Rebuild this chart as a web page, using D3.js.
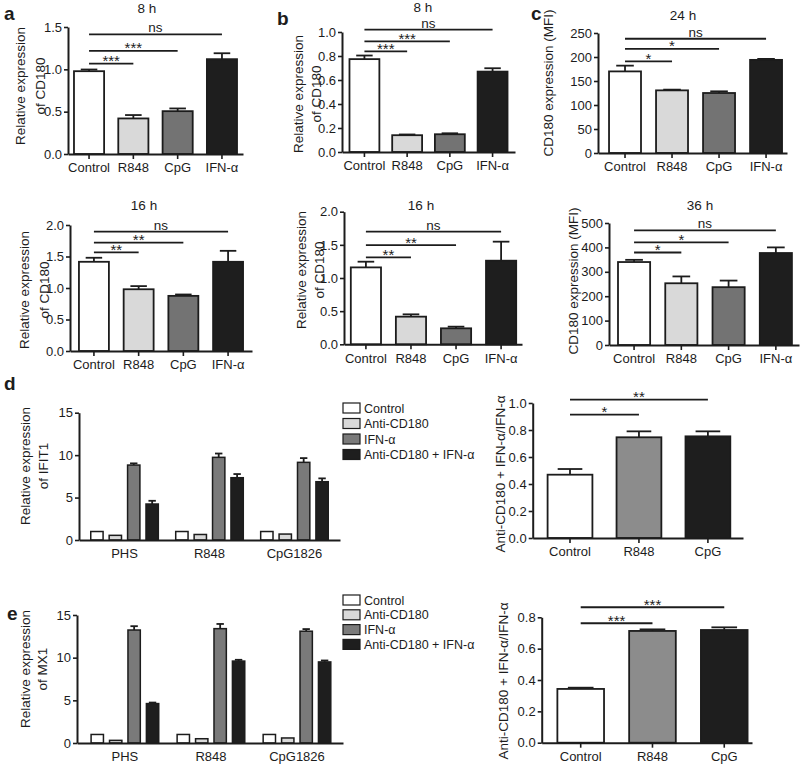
<!DOCTYPE html>
<html><head><meta charset="utf-8">
<script src="https://cdn.jsdelivr.net/npm/d3@7"></script>
<style>
body{margin:0;background:#fff}
svg{display:block}
text{font-family:"Liberation Sans",Arial,Helvetica,sans-serif;fill:#1c1c1c}
</style>
</head><body>
<svg id="fig" width="800" height="768"></svg>
<script>
// ---------- DATA ----------
const treatments = ["Control", "R848", "CpG", "IFN-α"];

const a8hValues  = [0.978, 0.42, 0.506, 1.12];
const a8hErrors  = [0.02, 0.04, 0.032, 0.07];
const a16hValues = [1.416, 0.98, 0.875, 1.416];
const a16hErrors = [0.064, 0.05, 0.022, 0.174];

const b8hValues  = [0.774, 0.14, 0.148, 0.67];
const b8hErrors  = [0.03, 0.006, 0.008, 0.028];
const b16hValues = [1.16, 0.417, 0.241, 1.261];
const b16hErrors = [0.086, 0.035, 0.025, 0.287];

const c24hValues = [170, 130.5, 125, 194];
const c24hErrors = [12, 1.5, 3.5, 2];
const c36hValues = [340, 253, 237, 377];
const c36hErrors = [9, 28, 27, 23];

// significance brackets: [from, to, label, level (data units)]
const a8hSig  = [["Control","R848","***",1.068],["Control","CpG","***",1.217],["Control","IFN-α","ns",1.413]];
const a16hSig = [["Control","R848","**",1.565],["Control","CpG","**",1.719],["Control","IFN-α","ns",1.894]];
const b8hSig  = [["Control","R848","***",0.838],["Control","CpG","***",0.922],["Control","IFN-α","ns",1.02]];
const b16hSig = [["Control","R848","**",1.312],["Control","CpG","**",1.497],["Control","IFN-α","ns",1.698]];
const c24hSig = [["Control","R848","*",191],["Control","CpG","*",217],["Control","IFN-α","ns",238]];
const c36hSig = [["Control","R848","*",379],["Control","CpG","*",421],["Control","IFN-α","ns",470]];

const stimuli = ["PHS", "R848", "CpG1826"];
const conditions = ["Control", "Anti-CD180", "IFN-α", "Anti-CD180 + IFN-α"];

const ifit1Control    = [1.0, 1.0, 1.0];
const ifit1AntiCD180  = [0.55, 0.65, 0.7];
const ifit1IFN        = [8.83, 9.74, 9.15];
const ifit1Combo      = [4.24, 7.34, 6.87];
const ifit1IFNErr     = [0.2, 0.45, 0.5];
const ifit1ComboErr   = [0.38, 0.43, 0.39];

const mx1Control      = [1.0, 1.0, 1.0];
const mx1AntiCD180    = [0.31, 0.5, 0.59];
const mx1IFN          = [13.24, 13.4, 13.1];
const mx1Combo        = [4.62, 9.6, 9.5];
const mx1IFNErr       = [0.45, 0.55, 0.25];
const mx1ComboErr     = [0.12, 0.15, 0.17];

const ratioGroups = ["Control", "R848", "CpG"];
const ifit1RatioValues = [0.469, 0.746, 0.753];
const ifit1RatioErrors = [0.042, 0.044, 0.037];
const ifit1RatioSig = [["Control","R848","*",0.914],["Control","CpG","**",1.025]];
const mx1RatioValues = [0.343, 0.713, 0.719];
const mx1RatioErrors = [0.008, 0.01, 0.017];
const mx1RatioSig = [["Control","R848","***",0.762],["Control","CpG","***",0.864]];

// ---------- STYLE ----------
const treatmentColors = ["#ffffff", "#d9d9d9", "#737373", "#1e1e1e"];
const conditionColors = ["#ffffff", "#d9d9d9", "#7a7a7a", "#1e1e1e"];
const ratioColors     = ["#ffffff", "#8c8c8c", "#1e1e1e"];
const INK = "#1c1c1c";

const svg = d3.select("#fig");

function styleAxis(g) {
  g.select(".domain").attr("stroke", INK).attr("stroke-width", 2);
  g.selectAll(".tick line").attr("stroke", INK).attr("stroke-width", 1.6);
  g.selectAll(".tick text").attr("font-size", 13).attr("fill", INK)
    .style("font-family", '"Liberation Sans",Arial,sans-serif');
}

function yLabel(cfg) {
  cfg.ylab.forEach((t, i) => {
    svg.append("text")
      .attr("transform", `translate(${cfg.ylabX[i]},${cfg.ylabY}) rotate(-90)`)
      .attr("text-anchor", "middle").attr("font-size", 13.5).text(t);
  });
}

function decorations(cfg) {
  if (cfg.title) svg.append("text").attr("x", cfg.titleX).attr("y", cfg.titleY)
    .attr("text-anchor", "middle").attr("font-size", 13.5).text(cfg.title);
  if (cfg.letter) svg.append("text").attr("x", cfg.letterX).attr("y", cfg.letterY)
    .attr("font-size", 19).attr("font-weight", "bold").text(cfg.letter);
  yLabel(cfg);
}

function yAxis(cfg, y) {
  const ticks = d3.range(0, cfg.yMax + cfg.step * 0.01, cfg.step);
  svg.append("g").attr("transform", `translate(${cfg.ax},0)`)
    .call(d3.axisLeft(y).tickValues(ticks).tickFormat(d3.format(cfg.fmt))
      .tickSize(4).tickPadding(2).tickSizeOuter(0))
    .call(styleAxis);
}

function errorBars(x, y, items, capW) {
  const g = svg.append("g").attr("stroke", INK).attr("stroke-width", 1.8);
  items.filter(d => d.err > 0).forEach(d => {
    g.append("line").attr("x1", d.cx).attr("x2", d.cx).attr("y1", y(d.v)).attr("y2", y(d.v + d.err));
    g.append("line").attr("x1", d.cx - capW / 2).attr("x2", d.cx + capW / 2)
      .attr("y1", y(d.v + d.err)).attr("y2", y(d.v + d.err));
  });
}

function sigBrackets(x, y, sig) {
  sig.forEach(([a, b, lab, lvl]) => {
    const x1 = x(a) + x.bandwidth() / 2, x2 = x(b) + x.bandwidth() / 2, yy = y(lvl);
    svg.append("line").attr("x1", x1).attr("x2", x2).attr("y1", yy).attr("y2", yy)
      .attr("stroke", INK).attr("stroke-width", 1.8);
    const isStar = lab.includes("*");
    svg.append("text").attr("x", (x1 + x2) / 2).attr("y", isStar ? yy + 2.5 : yy - 2)
      .attr("text-anchor", "middle").attr("font-size", isStar ? 15 : 13.5).text(lab);
  });
}

function barPanel(cfg) {
  const x = d3.scaleBand().domain(cfg.cats).range([cfg.ax, cfg.xEnd])
    .paddingInner(cfg.pi).paddingOuter(cfg.po).align(cfg.align);
  const y = d3.scaleLinear().domain([0, cfg.yMax]).range([cfg.yBottom, cfg.yTop]);
  const items = cfg.cats.map((c, i) => ({c, v: cfg.values[i], err: cfg.errors[i], cx: x(c) + x.bandwidth() / 2}));
  errorBars(x, y, items, x.bandwidth() * 0.55);
  svg.append("g").selectAll("rect").data(items).join("rect")
    .attr("x", d => x(d.c)).attr("y", d => y(d.v))
    .attr("width", x.bandwidth()).attr("height", d => y(0) - y(d.v))
    .attr("fill", (d, i) => cfg.colors[i]).attr("stroke", INK).attr("stroke-width", 1.8);
  yAxis(cfg, y);
  svg.append("g").attr("transform", `translate(0,${cfg.yBottom})`)
    .call(d3.axisBottom(x).tickSize(5).tickPadding(4).tickSizeOuter(0))
    .call(styleAxis);
  sigBrackets(x, y, cfg.sig);
  decorations(cfg);
}

function groupedPanel(cfg) {
  const x0 = d3.scaleBand().domain(stimuli).range([cfg.ax, cfg.xEnd])
    .paddingInner(cfg.pi).paddingOuter(cfg.po).align(cfg.align);
  const x1 = d3.scaleBand().domain(conditions).range([0, x0.bandwidth()])
    .paddingInner(0.33).paddingOuter(0.2);
  const y = d3.scaleLinear().domain([0, cfg.yMax]).range([cfg.yBottom, cfg.yTop]);
  const items = [];
  stimuli.forEach((s, i) => conditions.forEach((c, j) => {
    items.push({s, c, j, v: cfg.series[j][i], err: cfg.errs[j][i], cx: x0(s) + x1(c) + x1.bandwidth() / 2});
  }));
  errorBars(x0, y, items, x1.bandwidth() * 0.6);
  svg.append("g").selectAll("rect").data(items).join("rect")
    .attr("x", d => x0(d.s) + x1(d.c)).attr("y", d => y(d.v))
    .attr("width", x1.bandwidth()).attr("height", d => y(0) - y(d.v))
    .attr("fill", d => conditionColors[d.j]).attr("stroke", INK).attr("stroke-width", 1.5);
  yAxis(cfg, y);
  svg.append("g").attr("transform", `translate(0,${cfg.yBottom})`)
    .call(d3.axisBottom(x0).tickSize(0).tickPadding(9).tickSizeOuter(0))
    .call(styleAxis);
  // legend
  const lg = svg.append("g");
  conditions.forEach((c, j) => {
    const yy = cfg.legY + j * cfg.legStep;
    lg.append("rect").attr("x", cfg.legX).attr("y", yy - 5).attr("width", 17).attr("height", 10)
      .attr("fill", conditionColors[j]).attr("stroke", INK).attr("stroke-width", 1.2);
    lg.append("text").attr("x", cfg.legX + 21).attr("y", yy + 4.5).attr("font-size", 12.5).text(c);
  });
  decorations(cfg);
}

// ---------- PANELS ----------
barPanel({values: a8hValues, errors: a8hErrors, sig: a8hSig, cats: treatments, colors: treatmentColors,
  ax: 68, xEnd: 243, yBottom: 154, yTop: 27, yMax: 1.5, step: 0.5, fmt: ".1f", pi: 0.32, po: 0.135, align: 0.5,
  title: "8 h", titleX: 147, titleY: 13, letter: "a", letterX: 4, letterY: 20,
  ylab: ["Relative expression", "of CD180"], ylabX: [25, 45], ylabY: 86});

barPanel({values: a16hValues, errors: a16hErrors, sig: a16hSig, cats: treatments, colors: treatmentColors,
  ax: 70, xEnd: 252, yBottom: 351, yTop: 225, yMax: 2.0, step: 0.5, fmt: ".1f", pi: 0.33, po: 0.2, align: 0.5,
  title: "16 h", titleX: 144, titleY: 210,
  ylab: ["Relative expression", "of CD180"], ylabX: [29, 48.5], ylabY: 290});

barPanel({values: b8hValues, errors: b8hErrors, sig: b8hSig, cats: treatments, colors: treatmentColors,
  ax: 342, xEnd: 515, yBottom: 152, yTop: 32, yMax: 1.0, step: 0.2, fmt: ".1f", pi: 0.3, po: 0.175, align: 0.5,
  title: "8 h", titleX: 423, titleY: 12, letter: "b", letterX: 277, letterY: 25,
  ylab: ["Relative expression", "of CD180"], ylabX: [302.5, 321], ylabY: 94});

barPanel({values: b16hValues, errors: b16hErrors, sig: b16hSig, cats: treatments, colors: treatmentColors,
  ax: 344, xEnd: 522, yBottom: 344.3, yTop: 211.7, yMax: 2.0, step: 0.5, fmt: ".1f", pi: 0.33, po: 0.14, align: 0.54,
  title: "16 h", titleX: 421, titleY: 210,
  ylab: ["Relative expression", "of CD180"], ylabX: [306, 324], ylabY: 270});

barPanel({values: c24hValues, errors: c24hErrors, sig: c24hSig, cats: treatments, colors: treatmentColors,
  ax: 598, xEnd: 787, yBottom: 153, yTop: 33, yMax: 250, step: 50, fmt: "d", pi: 0.32, po: 0.17, align: 0.69,
  title: "24 h", titleX: 683, titleY: 20, letter: "c", letterX: 531, letterY: 20,
  ylab: ["CD180 expression (MFI)"], ylabX: [552.5], ylabY: 83});

barPanel({values: c36hValues, errors: c36hErrors, sig: c36hSig, cats: treatments, colors: treatmentColors,
  ax: 609, xEnd: 799, yBottom: 345, yTop: 223, yMax: 500, step: 100, fmt: "d", pi: 0.32, po: 0.17, align: 0.56,
  title: "36 h", titleX: 700, titleY: 210,
  ylab: ["CD180 expression (MFI)"], ylabX: [578], ylabY: 281});

groupedPanel({series: [ifit1Control, ifit1AntiCD180, ifit1IFN, ifit1Combo],
  errs: [[0,0,0],[0,0,0], ifit1IFNErr, ifit1ComboErr],
  ax: 79, xEnd: 340, yBottom: 540, yTop: 412.7, yMax: 15, step: 5, fmt: "d", pi: 0.118, po: 0.095, align: 0.5,
  letter: "d", letterX: 4, letterY: 390,
  ylab: ["Relative expression", "of IFIT1"], ylabX: [29.5, 47.5], ylabY: 466,
  legX: 343, legY: 408, legStep: 15.5});

groupedPanel({series: [mx1Control, mx1AntiCD180, mx1IFN, mx1Combo],
  errs: [[0,0,0],[0,0,0], mx1IFNErr, mx1ComboErr],
  ax: 77, xEnd: 343, yBottom: 743, yTop: 615, yMax: 15, step: 5, fmt: "d", pi: 0.128, po: 0.11, align: 0.55,
  letter: "e", letterX: 7, letterY: 620,
  ylab: ["Relative expression", "of MX1"], ylabX: [29.5, 47], ylabY: 669,
  legX: 343, legY: 600, legStep: 14.8});

barPanel({values: ifit1RatioValues, errors: ifit1RatioErrors, sig: ifit1RatioSig, cats: ratioGroups, colors: ratioColors,
  ax: 532.7, xEnd: 743, yBottom: 538, yTop: 403, yMax: 1.0, step: 0.2, fmt: ".1f", pi: 0.35, po: 0.2, align: 0.54,
  ylab: ["Anti-CD180 + IFN-α/IFN-α"], ylabX: [505], ylabY: 474});

barPanel({values: mx1RatioValues, errors: mx1RatioErrors, sig: mx1RatioSig, cats: ratioGroups, colors: ratioColors,
  ax: 541.7, xEnd: 752, yBottom: 742.7, yTop: 617.3, yMax: 0.8, step: 0.2, fmt: ".1f", pi: 0.35, po: 0.14, align: 0.78,
  ylab: ["Anti-CD180 + IFN-α/IFN-α"], ylabX: [508], ylabY: 681});
</script>
</body></html>
